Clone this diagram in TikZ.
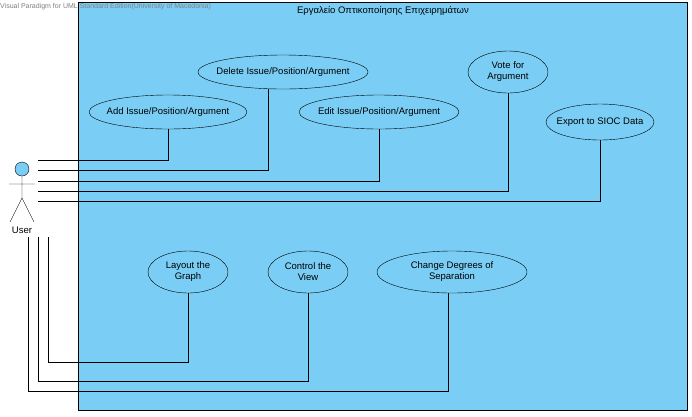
\documentclass[tikz,border=0pt]{standalone}
\usepackage{fontspec}
\setmainfont{Liberation Sans}
\usetikzlibrary{shapes.geometric}
\definecolor{uc}{RGB}{122,206,245}
\tikzset{
 uc/.style={ellipse,draw=black,fill=uc,inner sep=0pt},
 uctext/.style={align=center,inner sep=0pt,font=\fontsize{9.5}{11}\selectfont},
 link/.style={draw=black,line width=0.6pt}
}
\begin{document}
\begin{tikzpicture}[x=1pt,y=-1pt]
\useasboundingbox (0,0) rectangle (692,416);
\fill[white] (0,0) rectangle (692,416);
\node[draw=black,fill=uc,minimum width=609pt,minimum height=408pt,inner sep=0pt,anchor=north west] (sys) at (78,2) {};
\node[font=\fontsize{9.5}{10}\selectfont] (title) at (383,11) {Εργαλείο Οπτικοποίησης Επιχειρημάτων};
\node[anchor=west,text=gray,font=\fontsize{7}{7}\selectfont,inner sep=0pt] (wm) at (0,7) {Visual Paradigm for UML Standard Edition(University of Macedonia)};
% actor
\draw[fill=uc] (22,169) circle (7);
\draw (22,176) -- (22,198) (9,184) -- (35,184) (22,198) -- (10,222) (22,198) -- (34,222);
\node[font=\fontsize{9.5}{10}\selectfont] (user) at (22,230) {User};
% use cases
\node[uc,minimum width=158pt,minimum height=34pt] (add) at (168,112) {};
\node[uctext] (addt) at (add) {Add Issue/Position/Argument};
\node[uc,minimum width=170pt,minimum height=34pt] (del) at (283,72) {};
\node[uctext] (delt) at (del) {Delete Issue/Position/Argument};
\node[uc,minimum width=160pt,minimum height=34pt] (edit) at (379,112) {};
\node[uctext] (editt) at (edit) {Edit Issue/Position/Argument};
\node[uc,minimum width=80pt,minimum height=42pt] (vote) at (508,72) {};
\node[uctext] (votet) at (vote) {Vote for\\Argument};
\node[uc,minimum width=108pt,minimum height=36pt] (exp) at (600,122) {};
\node[uctext] (expt) at (exp) {Export to SIOC Data};
\node[uc,minimum width=80pt,minimum height=42pt] (lay) at (188,272) {};
\node[uctext] (layt) at (lay) {Layout the\\Graph};
\node[uc,minimum width=80pt,minimum height=42pt] (ctl) at (308,272) {};
\node[uctext] (ctlt) at (ctl) {Control the\\View};
\node[uc,minimum width=150pt,minimum height=42pt] (chg) at (452,272) {};
\node[uctext] (chgt) at (chg) {Change Degrees of\\Separation};
% connectors
\coordinate (a1) at (38,160); \coordinate (a2) at (38,170); \coordinate (a3) at (38,181);
\coordinate (a4) at (38,191); \coordinate (a5) at (38,201);
\coordinate (b1) at (48,237); \coordinate (b2) at (38,237); \coordinate (b3) at (28,237);
\draw[link] (a1) -| (add.south);
\draw[link] (a2) -| ([xshift=-15pt]del.south);
\draw[link] (a3) -| (edit.south);
\draw[link] (a4) -| (vote.south);
\draw[link] (a5) -| (exp.south);
\draw[link] (b1) |- (188,362) -- (lay.south);
\draw[link] (b2) |- (308,381) -- (ctl.south);
\draw[link] (b3) |- (448,391) -- (448,292.5);
\end{tikzpicture}
\end{document}
